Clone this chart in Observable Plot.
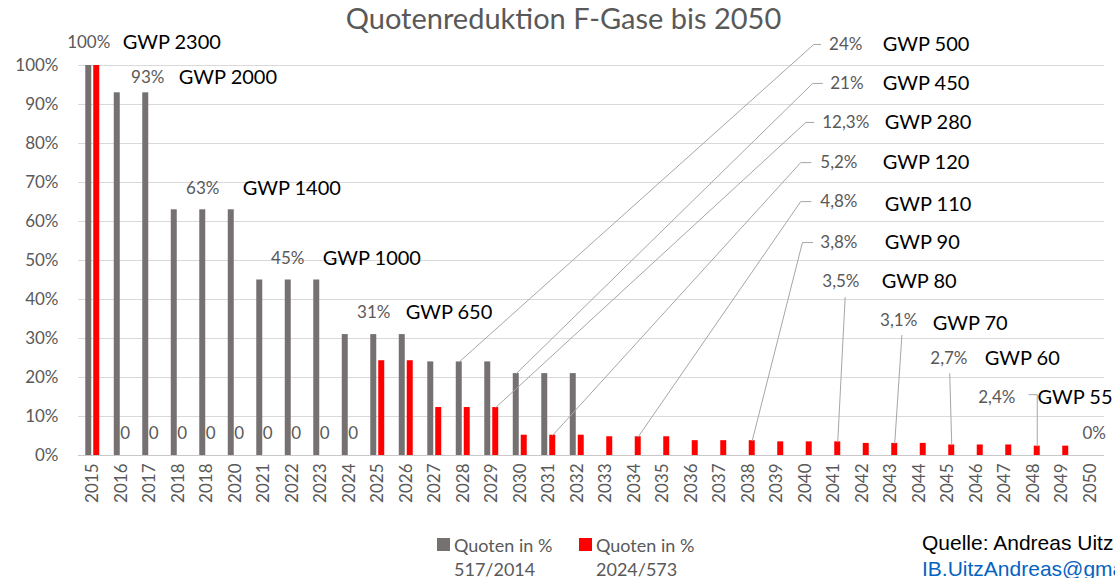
<!DOCTYPE html>
<html><head><meta charset="utf-8">
<script src="https://cdn.jsdelivr.net/npm/d3@7"></script>
<script src="https://cdn.jsdelivr.net/npm/@observablehq/plot@0.6"></script>
<style>
html,body{margin:0;padding:0;background:#fff;overflow:hidden;width:1115px;height:578px;}
body{position:relative;font-family:Lato,sans-serif;}
#title{position:absolute;left:0;top:0;width:1115px;height:36px;line-height:36px;text-align:center;font-size:29px;color:#595959;padding-left:12px;box-sizing:border-box;white-space:nowrap;}
#chart{position:absolute;left:0;top:34px;}
#chart svg{overflow:visible;}
.leg{position:absolute;top:533px;font-size:18px;line-height:24px;color:#595959;white-space:nowrap;}
.sw{position:absolute;width:13px;height:13px;top:538px;}
#src{position:absolute;left:922px;top:530px;font-family:"Liberation Sans",Arial,sans-serif;font-size:21px;line-height:26px;white-space:nowrap;}
</style></head><body>
<div id="title">Quotenreduktion F-Gase bis 2050</div>
<div id="chart"></div>
<div class="sw" style="left:437px;background:#767171"></div>
<div class="leg" style="left:454px">Quoten in %<br>517/2014</div>
<div class="sw" style="left:579px;background:#ff0000"></div>
<div class="leg" style="left:596px">Quoten in %<br>2024/573</div>
<div id="src"><span style="color:#000">Quelle: Andreas Uitz</span><br><span style="color:#0563C1">IB.UitzAndreas@gmail.com</span></div>
<script>
// categories (as printed on the axis, incl. the duplicated "2018")
const years = ["2015","2016","2017","2018","2018","2020","2021","2022","2023","2024","2025","2026","2027","2028","2029","2030","2031","2032","2033","2034","2035","2036","2037","2038","2039","2040","2041","2042","2043","2044","2045","2046","2047","2048","2049","2050"];
// series: Quoten in % 517/2014 (gray)
const quoten517 = [100,93,93,63,63,63,45,45,45,31,31,31,24,24,24,21,21,21,null,null,null,null,null,null,null,null,null,null,null,null,null,null,null,null,null,null];
// series: Quoten in % 2024/573 (red)
const quoten573 = [100,0,0,0,0,0,0,0,0,0,24.3,24.3,12.3,12.3,12.3,5.2,5.2,5.2,4.8,4.8,4.8,3.8,3.8,3.8,3.5,3.5,3.5,3.1,3.1,3.1,2.7,2.7,2.7,2.4,2.4,0];
// small value labels on the red series
const redLabels = [null,"0","0","0","0","0","0","0","0","0",null,null,null,null,null,null,null,null,null,null,null,null,null,null,null,null,null,null,null,null,null,null,null,null,null,"0%"];
// y tick values
const yTicks = [0,10,20,30,40,50,60,70,80,90,100];
// annotations (positions in data space: category index, percent)
const pctLabels = ["100%","93%","63%","45%","31%","24%","21%","12,3%","5,2%","4,8%","3,8%","3,5%","3,1%","2,7%","2,4%"];
const gwpLabels = ["GWP 2300","GWP 2000","GWP 1400","GWP 1000","GWP 650","GWP 500","GWP 450","GWP 280","GWP 120","GWP 110","GWP 90","GWP 80","GWP 70","GWP 60","GWP 55"];
const pctX = [-0.14,1.93,3.86,6.84,9.86,26.42,26.46,26.42,26.18,26.18,26.18,26.25,28.28,30.04,31.72];
const pctY = [105.9,96.9,68.5,50.5,36.7,105.4,95.4,85.4,75.1,65.1,54.6,44.6,34.6,24.9,14.9];
const gwpX = [1.05,3.02,5.26,8.07,10.98,27.72,27.72,27.79,27.72,27.79,27.79,27.68,29.47,31.3,33.15];
const gwpY = [105.9,96.9,68.5,50.5,36.7,105.4,95.4,85.4,75.1,64.4,54.6,44.6,33.8,24.9,14.9];
// leader lines (polylines in data space)
const leaders = [
  [[12.86,24],[25.3,105.4],[25.54,105.4]],
  [[14.86,21],[25.26,95.4],[25.6,95.4]],
  [[14.14,12.3],[25.02,85.4],[25.3,85.4]],
  [[16.14,5.2],[24.84,75.1],[25.2,75.1]],
  [[19.14,4.8],[24.84,65.1],[25.2,65.1]],
  [[23.14,3.8],[24.9,54.6],[25.26,54.6]],
  [[26.14,3.5],[26.4,40.5]],
  [[28.14,3.1],[28.39,30.8]],
  [[30.14,2.7],[30.07,21]],
  [[33.14,2.4],[33.14,15.6],[32.85,15.6]]
];

const idx = years.map((_, i) => i);
const rows = idx.map(i => ({i, g: quoten517[i], r: quoten573[i], rl: redLabels[i]}));
const ann = pctLabels.map((t, k) => ({t, g: gwpLabels[k], px: pctX[k], py: pctY[k], gx: gwpX[k], gy: gwpY[k]}));
const leaderPts = leaders.flatMap((pts, k) => pts.map(([x, y]) => ({k, x, y})));

const chart = Plot.plot({
  width: 1115, height: 486,
  marginTop: 31, marginBottom: 65, marginLeft: 78, marginRight: 11,
  style: {fontFamily: "Lato, sans-serif", fontSize: "17px", color: "#595959", background: "transparent", overflow: "visible"},
  x: {domain: [-0.5, years.length - 0.5], axis: null},
  y: {domain: [0, 100], axis: null},
  marks: [
    Plot.gridY(yTicks, {stroke: "#d9d9d9", strokeOpacity: 1}),
    Plot.axisY(yTicks, {tickSize: 0, tickPadding: 20, tickFormat: d => d + "%", fill: "#595959", fontSize: 17}),
    Plot.axisX(idx, {tickSize: 0, tickPadding: 8, tickRotate: -90, tickFormat: i => years[i], fill: "#595959", fontSize: 17}),
    Plot.rect(rows.filter(d => d.g != null), {x1: d => d.i - 0.245, x2: d => d.i - 0.035, y1: 0, y2: "g", fill: "#767171"}),
    Plot.rect(rows, {x1: d => d.i + 0.035, x2: d => d.i + 0.245, y1: 0, y2: "r", fill: "#ff0000"}),
    Plot.ruleY([0], {stroke: "#c8c8c8"}),
    Plot.line(leaderPts, {x: "x", y: "y", z: "k", stroke: "#a6a6a6", strokeWidth: 1}),
    Plot.text(rows.filter(d => d.rl), {x: d => d.i + 0.14, y: 0, dy: -22, text: "rl", fill: "#595959", fontSize: 17}),
    Plot.text(ann, {x: "px", y: "py", text: "t", fill: "#595959", fontSize: 17}),
    Plot.text(ann, {x: "gx", y: "gy", text: "g", fill: "#000", fontSize: 20, textAnchor: "start"})
  ]
});
document.getElementById("chart").appendChild(chart);
</script>
</body></html>
